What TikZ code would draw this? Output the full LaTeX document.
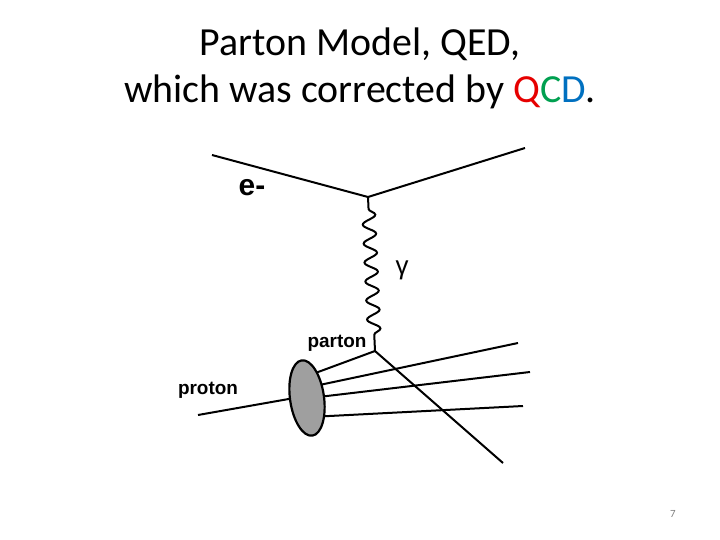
\documentclass[tikz,border=0pt]{standalone}
\usepackage{fontspec}
\setmainfont{Carlito}
\newfontfamily\arial{Liberation Sans}
\usetikzlibrary{decorations.pathmorphing,shapes.geometric}
\definecolor{qred}{RGB}{230,0,0}
\definecolor{qgreen}{RGB}{0,160,80}
\definecolor{qblue}{RGB}{0,112,192}
\tikzset{line/.style={line width=2bp,black},
 lab/.style={font=\arial\bfseries\fontsize{19}{22}\selectfont,inner sep=0pt}}
\begin{document}
\begin{tikzpicture}[x=1bp,y=-1bp]
\useasboundingbox (0,0) rectangle (720,540);
\node[font=\fontsize{40}{47}\selectfont,align=center] (title) at (360,68) {Parton Model, QED,\\which was corrected by \textcolor{qred}{Q}\textcolor{qgreen}{C}\textcolor{qblue}{D}.};
\coordinate (ein) at (212,155);
\coordinate (v1) at (368,197);
\coordinate (eout) at (525,148);
\coordinate (v2) at (375,351);
\coordinate (pin) at (198,415);
\draw[line] (ein) -- (v1) -- (eout);
\draw[line,decorate,decoration={snake,segment length=19bp,amplitude=6.5bp,pre length=12bp,post length=10bp}] (v1) -- (v2);
\draw[line] (pin) -- (300,397);
\draw[line] (310,375) -- (v2) -- (503,463);
\draw[line] (310,387) -- (518,343);
\draw[line] (310,398) -- (530,372);
\draw[line] (310,417) -- (523,406);
\node[ellipse,draw,line width=2.2bp,fill=gray!75!white,minimum width=34bp,minimum height=76bp,rotate=8,inner sep=0pt] (blob) at (307,398) {};
\node[lab,font=\arial\bfseries\fontsize{30}{32}\selectfont] (em) at (252,188) {e-};
\node[font=\arial\fontsize{26}{28}\selectfont] (gam) at (402,270) {γ};
\node[lab] (parton) at (337,343) {parton};
\node[lab] (proton) at (208,390) {proton};
\node[font=\fontsize{11}{13}\selectfont,text=gray] (pg) at (673,514) {7};
\end{tikzpicture}
\end{document}
